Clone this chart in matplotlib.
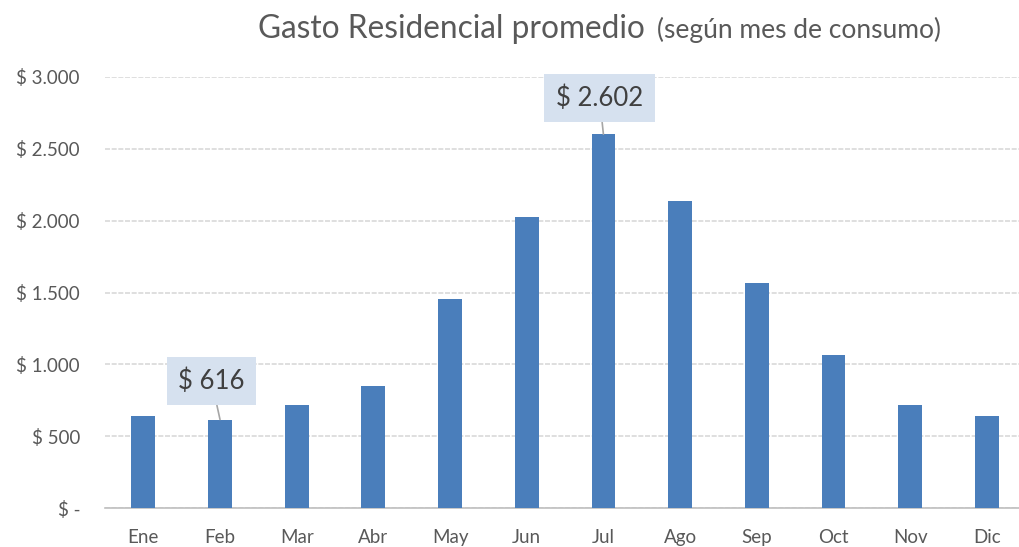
import matplotlib
matplotlib.use("Agg")
import matplotlib.pyplot as plt
from matplotlib.ticker import FuncFormatter

months = ["Ene", "Feb", "Mar", "Abr", "May", "Jun", "Jul", "Ago", "Sep", "Oct", "Nov", "Dic"]
gasto = [640, 616, 718, 850, 1455, 2025, 2602, 2140, 1568, 1065, 717, 643]
highlight = {1: "$ 616", 6: "$ 2.602"}
highlight_pos = {1: (0.89, 884), 6: (5.95, 2853)}

plt.rcParams['font.family'] = ['Lato', 'DejaVu Sans']

fig = plt.figure(figsize=(10.19, 5.47), dpi=100)
ax = fig.add_axes([105/1019, 39/547, 914/1019, 431/547])

x = list(range(len(months)))
ax.bar(x, gasto, width=0.31, color="#4A7EBB", zorder=3)

ax.set_xlim(-0.5, 11.42)
ax.set_ylim(0, 3000)
ax.set_yticks([0, 500, 1000, 1500, 2000, 2500, 3000])

def fmt(v, pos):
    if v == 0:
        return "$ -"
    return "$ " + f"{int(v):,}".replace(",", ".")

ax.yaxis.set_major_formatter(FuncFormatter(fmt))
ax.set_xticks(x)
ax.set_xticklabels(months)
ax.tick_params(axis='both', length=0, labelsize=13.5, colors="#595959")
ax.tick_params(axis='y', pad=18)
ax.tick_params(axis='x', pad=15)

ax.grid(axis='y', color="#D9D9D9", linewidth=1.2, linestyle=(0, (3, 1)), zorder=0)
for s in ["top", "right", "left"]:
    ax.spines[s].set_visible(False)
ax.spines["bottom"].set_color("#BFBFBF")
ax.spines["bottom"].set_linewidth(1.2)

for i, label in highlight.items():
    tx, ty = highlight_pos[i]
    ax.annotate(label, xy=(i, gasto[i]), xytext=(tx, ty), textcoords='data',
                ha='center', va='center', fontsize=18.5, color="#404040",
                bbox=dict(boxstyle='square,pad=0.45', fc="#D6E1EF", ec="none"),
                arrowprops=dict(arrowstyle='-', color="#A6A6A6", lw=1.2,
                                shrinkA=0, shrinkB=0),
                zorder=5)

fig.text(258/1019, 1 - 38/547, "Gasto Residencial promedio", fontsize=22.8,
         color="#595959", ha='left', va='baseline')
fig.text(657/1019, 1 - 38/547, "(según mes de consumo)", fontsize=19,
         color="#595959", ha='left', va='baseline')

fig.savefig("out.png", dpi=100)
